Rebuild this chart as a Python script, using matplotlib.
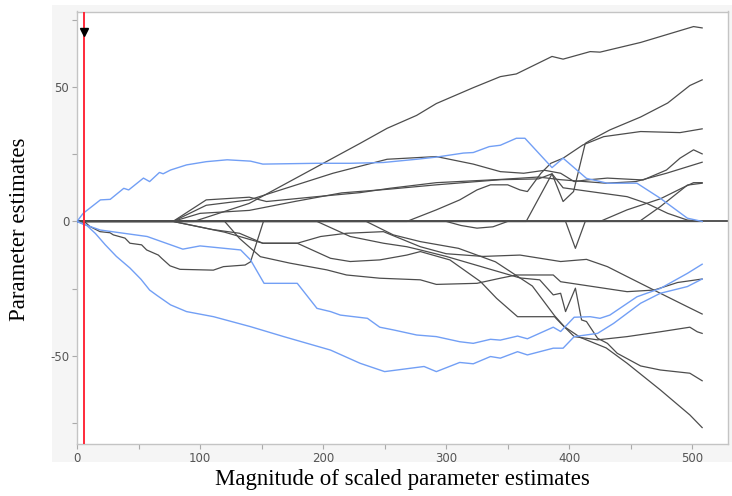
import matplotlib
matplotlib.use("Agg")
import matplotlib.pyplot as plt
from matplotlib.patches import Rectangle
from matplotlib.ticker import MultipleLocator

plt.rcParams["axes.unicode_minus"] = False

# ---- data: solution paths (magnitude of scaled estimates, parameter estimate) ----
blue_top_x = [0, 5, 19, 27, 38, 42, 54, 59, 67, 70, 76, 89, 105, 122, 141, 151, 195, 222, 249, 276, 292, 314, 322, 335, 344, 357, 364, 386, 395, 414, 431, 455, 474, 496, 508]
blue_top_y = [0, 3.0, 8.0, 8.2, 12.3, 11.7, 16.1, 14.8, 18.2, 17.7, 19.1, 21.0, 22.2, 22.9, 22.4, 21.3, 21.6, 21.6, 21.9, 23.1, 23.9, 25.4, 25.6, 27.8, 28.3, 30.9, 30.9, 20.0, 23.5, 16.0, 14.2, 14.2, 8.6, 1.2, 0]

blue_mid_x = [0, 5, 19, 57, 86, 100, 133, 141, 152, 179, 195, 206, 214, 225, 236, 246, 257, 276, 292, 311, 322, 336, 344, 358, 366, 387, 393, 404, 417, 425, 433, 455, 474, 496, 508]
blue_mid_y = [0, -1.0, -3.2, -5.6, -10.3, -9.1, -10.6, -14.3, -23.0, -23.0, -32.3, -33.5, -34.8, -35.4, -36.0, -39.3, -40.3, -42.2, -42.8, -44.7, -45.3, -43.8, -44.1, -42.6, -43.6, -39.3, -40.9, -35.6, -35.4, -36.0, -34.8, -28.0, -24.9, -19.3, -15.9]

blue_low_x = [0, 8, 15, 23, 32, 43, 52, 59, 65, 76, 89, 111, 141, 168, 206, 230, 250, 282, 292, 311, 322, 336, 344, 358, 366, 387, 395, 404, 423, 436, 458, 474, 496, 508]
blue_low_y = [0, -1.5, -4.5, -8.7, -13.0, -17.3, -21.5, -25.5, -27.5, -31.0, -33.5, -35.4, -39.1, -42.8, -47.8, -52.7, -55.8, -53.9, -55.8, -52.4, -52.9, -50.2, -50.8, -48.4, -49.6, -47.1, -47.1, -42.8, -41.6, -37.9, -30.4, -26.7, -24.2, -21.4]

k_x = [0, 6.5, 10.6, 18.7, 26.8, 29.5, 39, 43, 52.5, 56.6, 66.1, 68.8, 75.6, 83.7, 110.8, 119, 136.6, 141, 151.5, 508]
k_y = [0, -0.3, -1.9, -3.8, -4.2, -5.0, -6.2, -8.1, -8.7, -10.6, -12.5, -13.7, -16.5, -17.8, -18.1, -16.8, -16.2, -15.0, 0, 0]

l1_x = [0, 95, 140, 230, 252, 276, 292, 322, 344, 357, 386, 395, 417, 425, 458, 501, 508]
l1_y = [0, 0, 6.7, 29.0, 34.6, 39.4, 43.8, 49.7, 53.8, 54.8, 61.3, 60.3, 63.1, 62.9, 66.5, 72.4, 71.9]

spike_x = [0, 365, 386, 395, 403.5, 413, 417, 433, 458, 480, 498, 508]
spike_y = [0, 0, 17.7, 7.4, 11.1, 29.0, 30.1, 34.0, 38.8, 44.0, 50.5, 52.6]

p5_x = [0, 268, 292, 311, 325, 336, 350, 360, 366, 377, 385, 395, 411, 428, 458, 490, 508]
p5_y = [0, 0, 4.3, 8.0, 11.7, 13.6, 13.6, 11.7, 11.1, 17.9, 21.6, 23.5, 28.4, 31.5, 33.4, 33.0, 34.4]

p2_x = [0, 78, 105, 140, 208, 252, 292, 322, 344, 363, 380, 393, 404, 414, 431, 460, 479, 490, 501, 508]
p2_y = [0, 0, 6.0, 8.0, 17.9, 23.1, 24.1, 21.3, 18.5, 17.9, 19.0, 17.9, 14.8, 15.4, 16.1, 15.4, 19.1, 23.5, 26.6, 25.1]

p3_x = [0, 78, 105, 140, 154, 197, 230, 254, 292, 344, 375, 393, 430, 454, 479, 508]
p3_y = [0, 0, 8.0, 9.0, 7.4, 9.3, 10.7, 12.3, 14.4, 15.6, 16.5, 15.5, 14.2, 14.8, 17.9, 22.0]

p4_x = [0, 78, 100, 140, 178, 215, 254, 292, 344, 375, 386, 395, 417, 447, 463, 480, 496, 508]
p4_y = [0, 0, 3.0, 4.1, 7.5, 10.6, 12.0, 13.6, 15.5, 15.8, 17.7, 12.5, 11.1, 9.2, 6.7, 3.0, 0.5, 0]

l6_x = [0, 425, 447, 474, 493, 501, 508]
l6_y = [0, 0, 4.3, 8.4, 12.7, 14.4, 14.4]

l7_x = [0, 457, 474, 482, 496, 508]
l7_y = [0, 0, 5.5, 8.4, 13.5, 14.2]

n1_x = [0, 120, 132, 149, 173, 203, 219, 246, 279, 292, 325, 344, 357, 387, 393, 447, 469, 488, 508]
n1_y = [0, 0, -6.3, -13.1, -15.5, -18.0, -19.9, -21.1, -21.7, -23.4, -23.0, -21.1, -19.9, -19.9, -22.4, -26.1, -25.5, -22.7, -21.4]

n2_x = [0, 78, 110, 132, 151, 179, 198, 219, 249, 279, 300, 330, 360, 393, 414, 431, 447, 474, 496, 508]
n2_y = [0, 0, -3.0, -4.4, -8.1, -8.1, -5.6, -4.4, -3.8, -9.4, -12.0, -13.0, -12.5, -14.9, -14.1, -16.8, -20.5, -26.7, -31.7, -34.4]

n3_x = [0, 78, 120, 151, 179, 206, 222, 246, 268, 279, 303, 328, 341, 358, 388, 393, 404, 423, 447, 474, 498, 504, 508]
n3_y = [0, 0, -4.0, -8.1, -8.1, -13.7, -14.9, -14.3, -12.5, -11.2, -14.3, -22.4, -28.6, -35.4, -35.4, -37.8, -42.8, -44.0, -42.8, -41.0, -39.3, -41.0, -41.6]

n4_x = [0, 195, 222, 249, 268, 279, 300, 330, 360, 376, 387, 393, 397, 405, 410, 414, 423, 431, 439, 458, 474, 498, 508]
n4_y = [0, 0, -5.6, -8.1, -9.4, -10.6, -13.0, -17.0, -21.0, -21.7, -27.3, -26.7, -33.5, -24.8, -36.6, -37.2, -43.4, -45.3, -49.0, -53.7, -55.2, -56.4, -59.2]

n5_x = [0, 235, 257, 279, 310, 340, 370, 388, 396, 409, 430, 447, 474, 498, 508]
n5_y = [0, 0, -5.0, -7.5, -10.0, -15.0, -24.0, -35.0, -39.1, -43.1, -47.0, -52.7, -62.6, -71.9, -76.6]

v_x = [0, 397, 405, 413, 508]
v_y = [0, 0, -10.0, 0, 0]

w_x = [0, 300, 312, 325, 338, 350, 508]
w_y = [0, 0, -1.5, -2.5, -2.0, 0, 0]

blue_paths = [(blue_top_x, blue_top_y), (blue_mid_x, blue_mid_y), (blue_low_x, blue_low_y)]
black_paths = [(k_x, k_y), (l1_x, l1_y), (spike_x, spike_y), (p5_x, p5_y), (p2_x, p2_y),
               (p3_x, p3_y), (p4_x, p4_y), (l6_x, l6_y), (l7_x, l7_y), (n1_x, n1_y),
               (n2_x, n2_y), (n3_x, n3_y), (n4_x, n4_y), (n5_x, n5_y), (v_x, v_y), (w_x, w_y)]

x_major = [0, 100, 200, 300, 400, 500]
y_major = [-50, 0, 50]
current_step = 5.7
marker_y = 70.4

# ---- figure ----
fig = plt.figure(figsize=(7.32, 4.96), dpi=100)
panel = Rectangle((52 / 732, 1 - 462 / 496), (732 - 52) / 732, (462 - 5) / 496,
                  transform=fig.transFigure, facecolor="#f5f5f5",
                  edgecolor="none", zorder=-10)
fig.add_artist(panel)
ax = fig.add_axes([77 / 732, 1 - 444 / 496, 651 / 732, 432.5 / 496])
ax.set_zorder(1)
ax.set_facecolor("white")

ax.axhline(0, color="#555555", lw=1.4, zorder=2)
for xs, ys in black_paths:
    ax.plot(xs, ys, color="#4d4d4d", lw=0.9, zorder=3)
for xs, ys in blue_paths:
    ax.plot(xs, ys, color="#729ff5", lw=1.0, zorder=4)

ax.axvline(current_step, color="#ff2a3a", lw=1.4, zorder=5)
ax.plot([current_step], [marker_y], marker="v", color="black", markersize=6, zorder=6)

ax.set_xlim(0, 529)
ax.set_ylim(-82.7, 78)
ax.set_xticks(x_major)
ax.set_yticks(y_major)
ax.xaxis.set_minor_locator(MultipleLocator(50))
ax.yaxis.set_minor_locator(MultipleLocator(25))
ax.tick_params(which="both", direction="out", length=3.5, width=0.8, color="#aaaaaa",
               labelcolor="#555555", labelsize=8.5, pad=2)
for sp in ax.spines.values():
    sp.set_color("#c4c4c4")
    sp.set_linewidth(1.0)

fig.text(20 / 732, 1 - 229 / 496, "Parameter estimates", rotation=90, ha="center", va="center",
         fontsize=16.5, family="Liberation Serif", color="black")
fig.text(402 / 732, 1 - 479 / 496, "Magnitude of scaled parameter estimates", ha="center",
         va="center", fontsize=16.5, family="Liberation Serif", color="black")

fig.savefig("out.png", dpi=100)
